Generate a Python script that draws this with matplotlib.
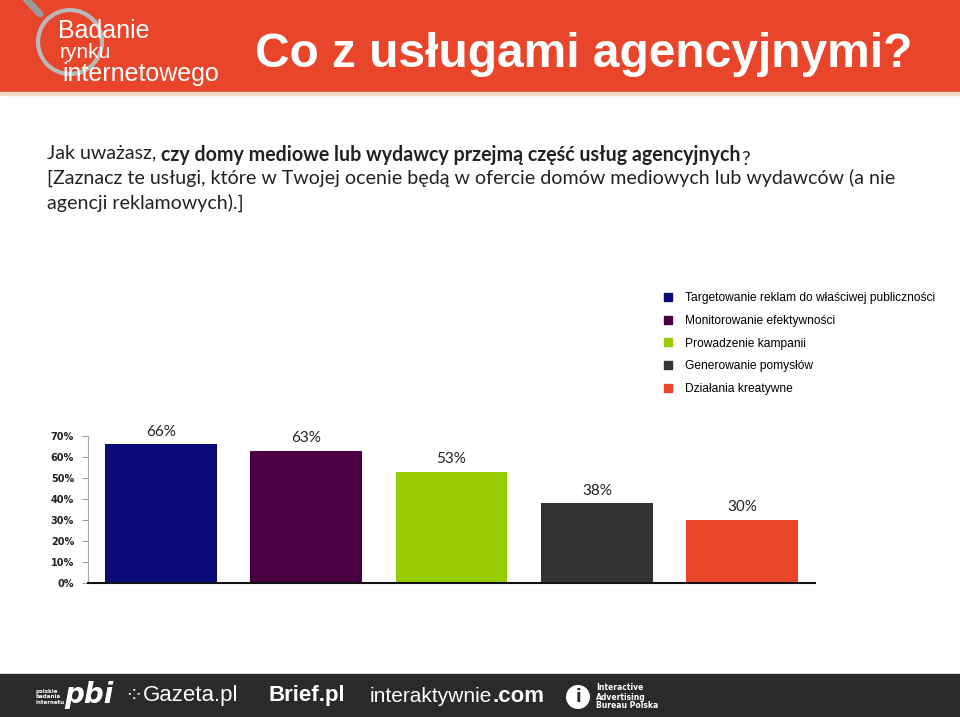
import matplotlib.pyplot as plt
from matplotlib.patches import Rectangle, Circle
from matplotlib.lines import Line2D

# data
categories = ["Targetowanie reklam do właściwej publiczności",
              "Monitorowanie efektywności",
              "Prowadzenie kampanii",
              "Generowanie pomysłów",
              "Działania kreatywne"]
values = [66, 63, 53, 38, 30]
colors = ["#0A0A78", "#4B0045", "#99CC00", "#333333", "#E8452A"]
yticks = [0, 10, 20, 30, 40, 50, 60, 70]
ytick_labels = ["0%", "10%", "20%", "30%", "40%", "50%", "60%", "70%"]

W, H = 960, 717
fig = plt.figure(figsize=(W / 100, H / 100), dpi=100)

# overlay in pixel coords for header / footer / text
bg = fig.add_axes([0, 0, 1, 1])
bg.set_xlim(0, W)
bg.set_ylim(H, 0)
bg.axis("off")

bg.add_patch(Rectangle((0, 0), W, 92, color="#E8452A", zorder=0))
bg.add_patch(Rectangle((0, 92), W, 3, color="#F7D9C8", zorder=0))
bg.add_patch(Rectangle((0, 674), W, H - 674, color="#2A2A2A", zorder=0))

# logo
bg.add_patch(Circle((70, 42), 32, fill=False, ec="#B9B9B9", lw=3, zorder=2))
bg.plot([40, 22], [14, -5], color="#9A9A9A", lw=5, solid_capstyle="round", zorder=2)
bg.text(58, 38, "Badanie", color="white", fontsize=18, family="Liberation Sans",
        va="baseline", ha="left", zorder=3)
bg.text(60, 58, "rynku", color="white", fontsize=15, family="Liberation Sans",
        va="baseline", ha="left", zorder=3)
bg.text(62, 81, "internetowego", color="white", fontsize=18, family="Liberation Sans",
        va="baseline", ha="left", zorder=3)

# title
bg.text(255, 67, "Co z usługami agencyjnymi?", color="white", fontsize=34.5,
        fontweight="bold", family="Liberation Sans",
        va="baseline", ha="left", zorder=3)

# question text
qfont = dict(fontsize=14.1, family="Lato", color="#222222", va="baseline")
t1 = bg.text(47, 158, "Jak uważasz, ", **qfont)
t2 = bg.annotate("czy domy mediowe lub wydawcy przejmą część usług agencyjnych",
                 xy=(1, 0), xycoords=t1, fontweight="bold", **qfont)
bg.annotate("?", xy=(1, 0), xycoords=t2, **qfont)
bg.text(47, 184, "[Zaznacz te usługi, które w Twojej ocenie będą w ofercie domów mediowych lub wydawców (a nie",
        **qfont)
bg.text(47, 209, "agencji reklamowych).]", **qfont)

# footer logos (text stand-ins)
ffont = dict(color="white", va="center", zorder=3)
bg.text(35, 697, "polskie\nbadania\ninternetu", fontsize=4, fontweight="bold",
        linespacing=1.0, **ffont)
bg.text(64, 695, "pbi", fontsize=20, fontweight="bold", style="italic", **ffont)
bg.text(124, 696, "\u2058", fontsize=16, **ffont)
bg.text(143, 696, "Gazeta.pl", fontsize=16, family="Liberation Sans", **ffont)
bg.text(268, 696, "Brief.pl", fontsize=16, fontweight="bold", family="Liberation Sans", **ffont)
t3 = bg.text(370, 696, "interaktywnie", fontsize=15, family="Liberation Sans", **ffont)
bg.annotate(".com", xy=(1, 0.5), xycoords=t3, fontsize=16, fontweight="bold",
            family="Liberation Sans", **ffont)
bg.add_patch(Circle((578, 697), 12, fc="white", ec="none", zorder=3))
bg.text(578, 697, "i", fontsize=12, fontweight="bold", color="#2A2A2A", ha="center",
        va="center", zorder=4)
bg.text(596, 697, "Interactive\nAdvertising\nBureau Polska", fontsize=5.5, fontweight="bold",
        linespacing=1.0, **ffont)

# chart
ax = fig.add_axes([88 / W, 1 - 583 / H, (815 - 88) / W, (583 - 436) / H])
x = list(range(len(values)))
bars = ax.bar(x, values, width=0.77, color=colors, label=categories, zorder=2)
for xi, v in zip(x, values):
    ax.annotate(f"{v}%", (xi, v), xytext=(0, 4), textcoords="offset points",
                ha="center", va="bottom", fontsize=11, family="Lato", color="#222222")

ax.set_xlim(-0.5, 4.5)
ax.set_ylim(0, 70)
ax.set_yticks(yticks)
ax.set_yticklabels(ytick_labels, fontsize=7, fontweight="bold", color="#222222")
ax.set_xticks([])
ax.tick_params(axis="y", length=4, width=0.8, color="#999999", pad=6)
for s in ["top", "right"]:
    ax.spines[s].set_visible(False)
ax.spines["left"].set_color("#AAAAAA")
ax.spines["left"].set_linewidth(0.8)
ax.spines["bottom"].set_color("#111111")
ax.spines["bottom"].set_linewidth(1.5)
ax.patch.set_alpha(0)

handles = [Line2D([], [], marker="s", linestyle="none", markersize=6,
                  markerfacecolor=c, markeredgecolor=c) for c in colors]
fig.legend(handles, categories, loc="upper left",
           bbox_to_anchor=(662 / W, 1 - 292 / H), frameon=False,
           borderaxespad=0, borderpad=0, handletextpad=0.9, handlelength=1.0,
           labelspacing=0.9, prop={"family": "Liberation Sans", "size": 8.65})

fig.savefig("out.png", dpi=100)
